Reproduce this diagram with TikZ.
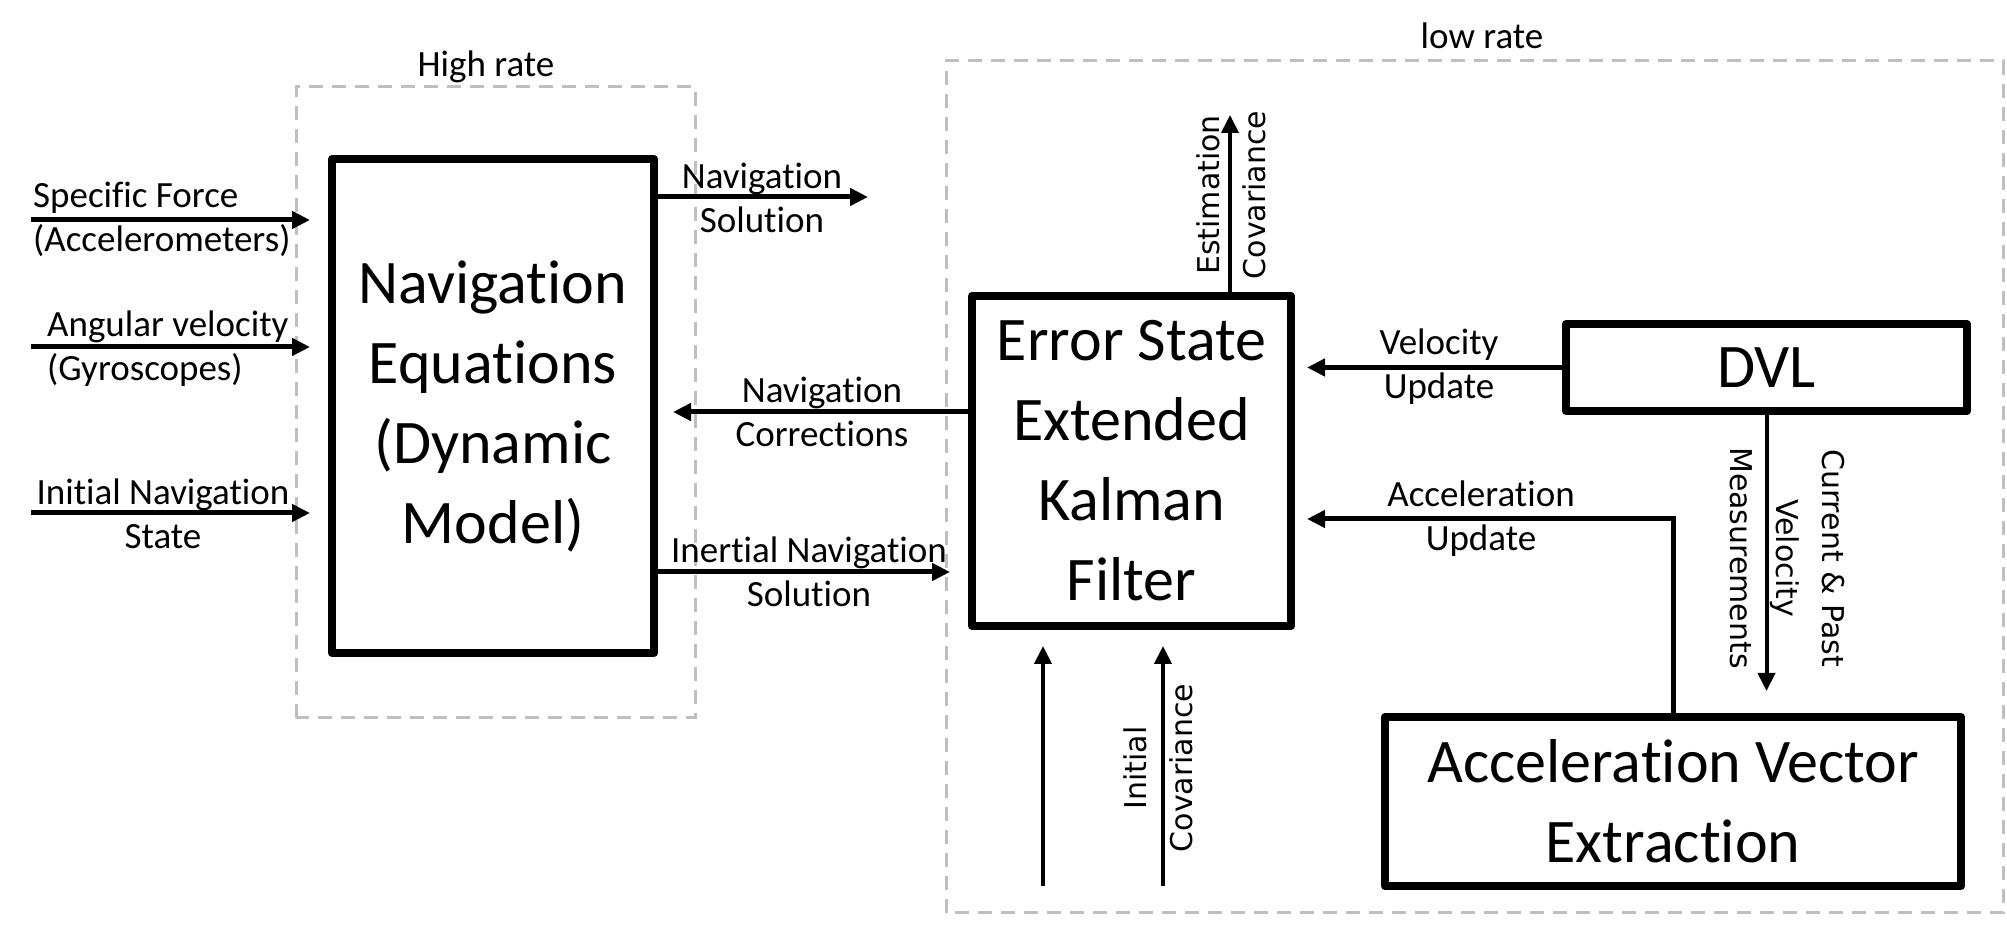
\documentclass[tikz,border=0pt]{standalone}
\usepackage{fontspec}
\setmainfont[RawFeature={-liga;-clig;-dlig;-calt;-hlig}]{Carlito}
\newfontfamily\rotfont{DejaVu Sans}
\usetikzlibrary{arrows.meta}

\begin{document}
\begin{tikzpicture}[block/.style={draw, line width=8bp, line join=round,
						align=center, inner sep=0pt,
						font=\fontsize{62bp}{80bp}\selectfont},
						flow/.style={line width=5bp,
						-{Triangle[length=18bp,width=17bp]}},
						thinflow/.style={flow, line width=4bp},
						rate/.style={draw=gray!50, line width=3bp,
						dash pattern=on 14bp off 9bp},
						lbl/.style={align=center, inner sep=0pt,
						font=\fontsize{37bp}{44bp}\selectfont},
						vlbl/.style={align=center, inner sep=0pt,
						font=\rotfont\fontsize{30bp}{46bp}\selectfont}]

		\useasboundingbox (0bp,0bp) rectangle (2007bp,930bp);

		% rate regions
		\draw[rate] (296bp,212bp) rectangle (695bp,843bp);
		\draw[rate] (946bp,17bp) rectangle (2003bp,869bp);
		\node[lbl] (high) at (486bp,863bp) {High rate};
		\node[lbl] (low) at (1482bp,894bp) {low rate};

		% blocks
		\node[block, minimum width=322bp, minimum height=494bp] (naveq) at (493bp,524bp) {Navigation\\Equations\\(Dynamic\\Model)};
		\node[block, minimum width=319bp, minimum height=330bp] (ekf) at (1131.5bp,469bp) {Error State\\Extended\\Kalman\\Filter};
		\node[block, minimum width=401bp, minimum height=87bp] (dvl) at (1766.5bp,562.5bp) {DVL};
		\node[block, minimum width=576bp, minimum height=169bp] (ave) at (1673bp,128.5bp) {Acceleration Vector\\Extraction};

		% inputs
		\coordinate (sf) at (31bp,710bp);
		\coordinate (av) at (31bp,583bp);
		\coordinate (ins) at (31bp,417bp);
		\node[lbl, align=left, anchor=west] (sftxt) at (33bp,711bp) {Specific Force\\(Accelerometers)};
		\node[lbl, align=left, anchor=west] (avtxt) at (47bp,581bp) {Angular velocity\\(Gyroscopes)};
		\node[lbl] (instxt) at (163bp,416bp) {Initial Navigation\\State};
		\draw[flow, shorten >=18bp] (sf) -- (sf -| naveq.west);
		\draw[flow, shorten >=18bp] (av) -- (av -| naveq.west);
		\draw[flow, shorten >=18bp] (ins) -- (ins -| naveq.west);

		% navigation links
		\node[lbl] (soltxt) at (762bp,732bp) {Navigation\\Solution};
		\node[lbl] (corrtxt) at (822bp,518bp) {Navigation\\Corrections};
		\node[lbl] (inertxt) at (809bp,358bp) {Inertial Navigation\\Solution};
		\coordinate (solend) at (868bp,733bp);
		\draw[flow] (solend -| naveq.east) -- (solend);
		\draw[flow, shorten >=15bp] (corrtxt -| ekf.west) -- (corrtxt -| naveq.east);
		\draw[flow, shorten >=18bp] (inertxt -| naveq.east) -- (inertxt -| ekf.west);

		% filter links
		\node[lbl] (veltxt) at (1439bp,563bp) {Velocity\\Update};
		\node[lbl] (acctxt) at (1481bp,411bp) {Acceleration\\Update};
		\draw[flow, shorten >=12bp] (dvl.west) -- (dvl.west -| ekf.east);
		\draw[flow, shorten >=12bp] (ave.north) |- (acctxt -| ekf.east);
		\node[vlbl, rotate=-90] (meastxt) at (1787bp,372bp) {Current \& Past\\Velocity\\Measurements};
		\draw[thinflow, shorten >=22bp] (dvl.south) -- (dvl.south |- ave.north);

		\coordinate (esttop) at (1230bp,815bp);
		\node[vlbl, rotate=90] (esttxt) at (1231bp,735bp) {Estimation\\Covariance};
		\draw[thinflow] (esttop |- ekf.north) -- (esttop);

		\coordinate (in1) at (1043bp,44bp);
		\coordinate (in2) at (1163bp,44bp);
		\node[vlbl, rotate=90] (covtxt) at (1158bp,162bp) {Initial\\Covariance};
		\draw[thinflow, shorten >=16bp] (in1) -- (in1 |- ekf.south);
		\draw[thinflow, shorten >=16bp] (in2) -- (in2 |- ekf.south);

	\end{tikzpicture}
\end{document}
